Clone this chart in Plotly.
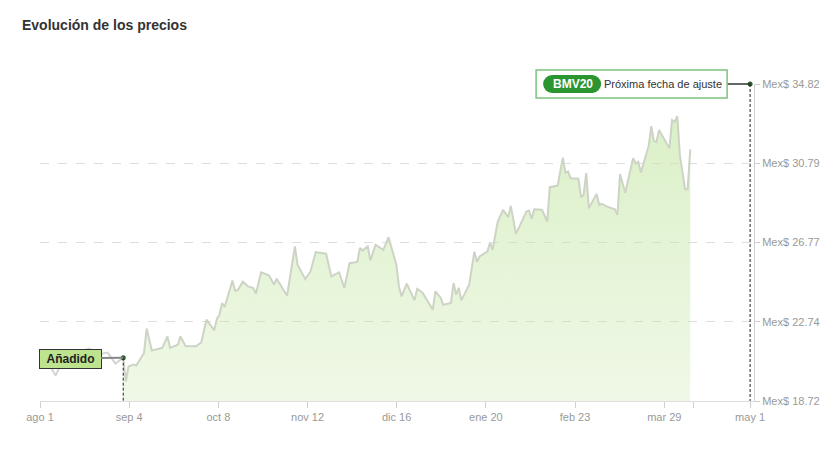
import plotly.graph_objects as go

# price before the stock was added (grey line)
before_dates = ["2024-08-01", "2024-08-04", "2024-08-07", "2024-08-09", "2024-08-12", "2024-08-16",
                "2024-08-20", "2024-08-23", "2024-08-27", "2024-08-30", "2024-09-02"]
before_prices = [21.18, 20.72, 20.01, 20.57, 20.82, 21.23, 21.38, 21.08, 21.18, 20.62, 20.92]

# price since it was added (green area)
dates = ["2024-09-02", "2024-09-03", "2024-09-04", "2024-09-06", "2024-09-07", "2024-09-10",
         "2024-09-11", "2024-09-13", "2024-09-17", "2024-09-19", "2024-09-20", "2024-09-23",
         "2024-09-24", "2024-09-26", "2024-09-30", "2024-10-02", "2024-10-04", "2024-10-07",
         "2024-10-08", "2024-10-09", "2024-10-10", "2024-10-11", "2024-10-14", "2024-10-15",
         "2024-10-16", "2024-10-18", "2024-10-20", "2024-10-22", "2024-10-23", "2024-10-25",
         "2024-10-28", "2024-10-30", "2024-10-31", "2024-11-04", "2024-11-07", "2024-11-08",
         "2024-11-11", "2024-11-13", "2024-11-15", "2024-11-19", "2024-11-21", "2024-11-24",
         "2024-11-26", "2024-11-28", "2024-12-01", "2024-12-02", "2024-12-03", "2024-12-05",
         "2024-12-06", "2024-12-08", "2024-12-11", "2024-12-13", "2024-12-16", "2024-12-17",
         "2024-12-18", "2024-12-20", "2024-12-23", "2024-12-24", "2024-12-26", "2024-12-30",
         "2024-12-31", "2025-01-02", "2025-01-03", "2025-01-06", "2025-01-07", "2025-01-08",
         "2025-01-09", "2025-01-10", "2025-01-13", "2025-01-15", "2025-01-16", "2025-01-17",
         "2025-01-20", "2025-01-21", "2025-01-22", "2025-01-24", "2025-01-26", "2025-01-28",
         "2025-01-29", "2025-01-31", "2025-02-04", "2025-02-05", "2025-02-06", "2025-02-07",
         "2025-02-10", "2025-02-12", "2025-02-13", "2025-02-16", "2025-02-18", "2025-02-19",
         "2025-02-20", "2025-02-21", "2025-02-24", "2025-02-25", "2025-02-26", "2025-02-27",
         "2025-02-28", "2025-03-03", "2025-03-04", "2025-03-05", "2025-03-07", "2025-03-10",
         "2025-03-11", "2025-03-12", "2025-03-14", "2025-03-17", "2025-03-18", "2025-03-19",
         "2025-03-20", "2025-03-23", "2025-03-24", "2025-03-25", "2025-03-26", "2025-03-27",
         "2025-03-31", "2025-04-01", "2025-04-02", "2025-04-03", "2025-04-04", "2025-04-06",
         "2025-04-07", "2025-04-08"]
prices = [20.92, 19.71, 20.47, 20.57, 20.52, 21.16,
          22.40, 21.28, 21.42, 22.00, 21.42, 21.58,
          22.00, 21.50, 21.50, 21.70, 22.85, 22.31,
          22.89, 23.10, 23.70, 23.49, 24.84, 24.32,
          24.34, 24.79, 24.54, 24.46, 24.17, 25.25,
          25.10, 24.63, 24.93, 24.07, 26.57, 25.64,
          24.91, 25.30, 26.28, 26.20, 25.05, 25.25,
          24.46, 25.72, 25.78, 26.49, 26.36, 26.57,
          25.86, 26.65, 26.40, 27.04, 25.64, 24.54,
          24.03, 24.68, 23.83, 24.41, 24.23, 23.36,
          24.29, 23.97, 23.61, 23.70, 24.71, 24.12,
          24.46, 23.83, 24.63, 26.31, 25.78, 26.06,
          26.31, 26.77, 26.40, 27.83, 28.43, 28.06,
          28.63, 27.21, 28.34, 28.39, 27.97, 28.46,
          28.43, 27.83, 29.58, 29.66, 31.08, 30.32,
          30.37, 30.03, 30.01, 29.07, 29.19, 30.29,
          28.51, 29.24, 28.68, 28.73, 28.59, 28.46,
          28.17, 30.24, 29.30, 31.05, 30.79, 30.87,
          30.32, 31.67, 32.68, 31.94, 31.86, 32.48,
          31.55, 32.99, 32.90, 33.19, 31.21, 29.48,
          29.48, 31.50]

y_ticks = [18.72, 22.74, 26.77, 30.79, 34.82]
x_tickvals = ["2024-08-01", "2024-09-04 07:00", "2024-10-08 14:00", "2024-11-11 21:00",
              "2024-12-16 03:00", "2025-01-19 10:00", "2025-02-22 17:00", "2025-03-29",
              "2025-04-09 05:00", "2025-05-01"]
x_ticktext = ["ago 1", "sep 4", "oct 8", "nov 12", "dic 16", "ene 20", "feb 23", "mar 29", "", "may 1"]

added_date = before_dates[-1]
added_price = before_prices[-1]
next_adjust = "2025-05-01"
top_price = y_ticks[-1]

FONT = "Arial, Liberation Sans, sans-serif"
PILL = "#2b952f"

fig = go.Figure()

fig.add_trace(go.Scatter(
    x=before_dates, y=before_prices, mode="lines",
    line=dict(color="#d4d4d4", width=2), hoverinfo="skip"))

fig.add_trace(go.Scatter(
    x=dates, y=prices, mode="lines", fill="tozeroy",
    line=dict(color="#cdd4c5", width=2),
    fillgradient=dict(type="vertical", start=y_ticks[0], stop=top_price,
                      colorscale=[[0, "rgba(200,232,170,0.28)"], [1, "rgba(200,232,170,0.7)"]]),
    hoverinfo="skip"))

# marker dots for the two events
fig.add_trace(go.Scatter(
    x=[added_date, next_adjust], y=[added_price, top_price], mode="markers",
    marker=dict(color="#2d5e2d", size=5), cliponaxis=False, hoverinfo="skip"))

# label box for the next adjustment sits on the top edge (paper y = 1)
box = dict(xref="x", xsizemode="pixel", xanchor=next_adjust,
           yref="paper", ysizemode="pixel", yanchor=1)

shapes = [
    dict(type="line", x0=added_date, x1=added_date, y0=added_price, y1=y_ticks[0],
         line=dict(color="#222", width=1, dash="3px,2px")),
    dict(type="line", x0=next_adjust, x1=next_adjust, y0=top_price, y1=y_ticks[0],
         line=dict(color="#222", width=1, dash="3px,2px")),
    dict(type="line", x0=-23, x1=0, y0=0, y1=0, line=dict(color="#333", width=1.5), **box),
    dict(type="rect", x0=-214, x1=-23, y0=-14, y1=14,
         line=dict(color="#7cc27c", width=1.5), fillcolor="white", **box),
    dict(type="rect", x0=-198, x1=-158, y0=-9, y1=9,
         line=dict(width=0), fillcolor=PILL, **box),
    dict(type="circle", x0=-207, x1=-189, y0=-9, y1=9,
         line=dict(width=0), fillcolor=PILL, **box),
    dict(type="circle", x0=-167, x1=-149, y0=-9, y1=9,
         line=dict(width=0), fillcolor=PILL, **box),
]

annotations = [
    dict(x=added_date, y=added_price, text="<b>Añadido</b>", showarrow=True,
         arrowhead=0, arrowwidth=2, arrowcolor="#888", ax=-53, ay=1,
         bgcolor="#bde38e", bordercolor="#333", borderwidth=1, borderpad=1,
         width=59, height=16, font=dict(family=FONT, size=12, color="#222")),
    dict(x=next_adjust, y=top_price, xshift=-177, showarrow=False, text="<b>BMV20</b>",
         font=dict(family=FONT, size=12, color="white")),
    dict(x=next_adjust, y=top_price, xshift=-87, showarrow=False, text="Próxima fecha de ajuste",
         font=dict(family=FONT, size=11, color="#333")),
]

# page body has an 8px margin, so the figure is a bit smaller than the window
fig.update_layout(
    width=827, height=443,
    margin=dict(l=32, r=81, t=76, b=50),
    paper_bgcolor="white", plot_bgcolor="white",
    showlegend=False,
    font=dict(family=FONT),
    title=dict(text="<b>Evolución de los precios</b>", x=14 / 827, xanchor="left",
               y=1 - 17 / 443, yanchor="middle", font=dict(family=FONT, size=14, color="#333")),
    shapes=shapes,
    annotations=annotations,
    xaxis=dict(type="date", range=["2024-08-01", "2025-05-02 12:00"],
               tickvals=x_tickvals, ticktext=x_ticktext, showgrid=False,
               showline=True, linecolor="#dedede", linewidth=1,
               ticks="outside", ticklen=6, tickcolor="#cfcfcf",
               tickfont=dict(size=11, color="#999"), zeroline=False),
    yaxis=dict(side="right", range=[y_ticks[0], top_price],
               tickvals=y_ticks, ticktext=[f"Mex$ {v:.2f}" for v in y_ticks],
               showgrid=True, gridcolor="#dddddd", griddash="dash", gridwidth=1,
               showline=True, linecolor="#cfcfcf", linewidth=1,
               ticks="outside", ticklen=5, tickcolor="#cfcfcf",
               tickfont=dict(size=11, color="#999"), zeroline=False),
)

fig.write_html("out.html", config={"displayModeBar": False})
